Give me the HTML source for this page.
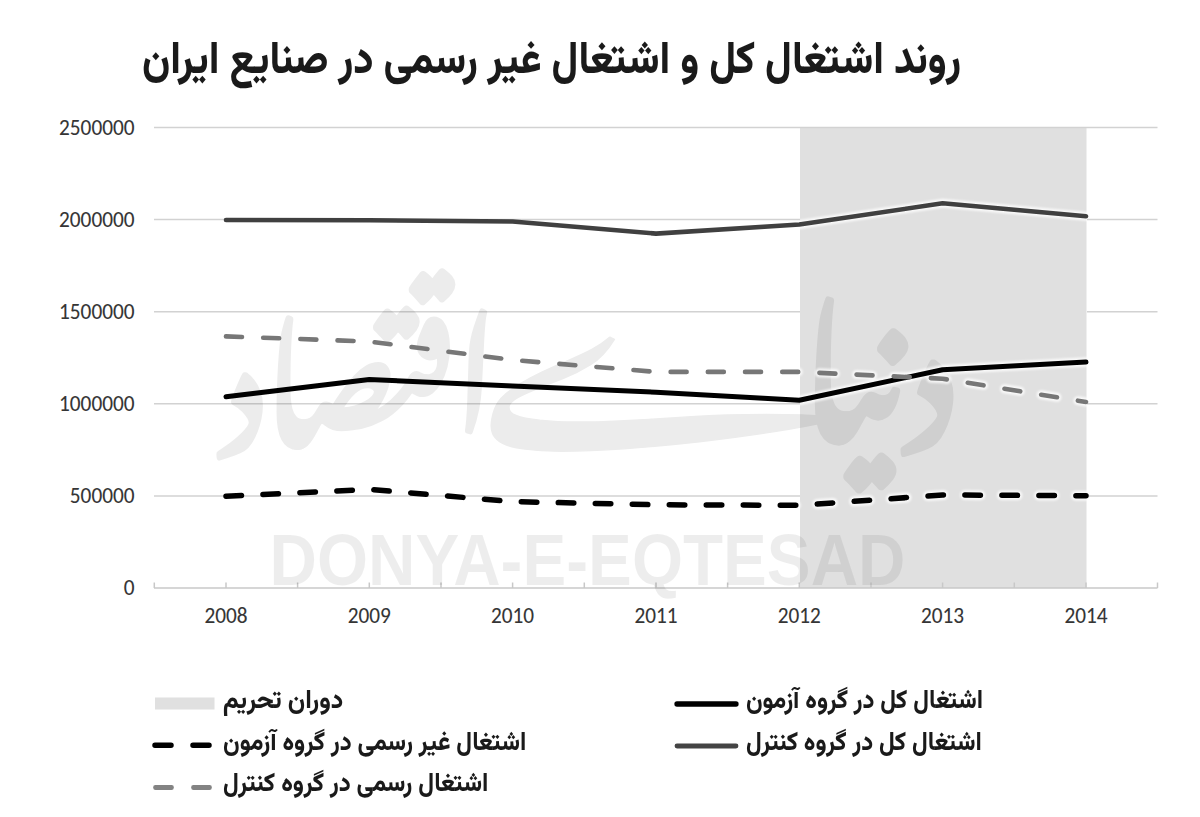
<!DOCTYPE html>
<html lang="fa">
<head>
<meta charset="utf-8">
<title>روند اشتغال کل و اشتغال غیر رسمی در صنایع ایران</title>
<style>
html,body{margin:0;padding:0;background:#fff;}
body{width:1200px;height:817px;position:relative;overflow:hidden;}
#chart{position:absolute;left:0;top:0;}
</style>
</head>
<body>
<svg id="chart" width="1200" height="817" viewBox="0 0 1200 817">
  <defs><filter id="soft" x="-5%" y="-50%" width="110%" height="200%"><feGaussianBlur stdDeviation="0.9"/></filter><clipPath id="bandclip"><rect x="800" y="127.5" width="287" height="460.5"/></clipPath></defs>
  <!-- sanction band -->
  <rect x="800" y="127" width="286.5" height="461" fill="#e0e0e0"/>
  <!-- gridlines -->
  <g stroke="#d2d2d2" stroke-width="1.5">
    <line x1="154" y1="127.5" x2="1157.5" y2="127.5"/>
    <line x1="154" y1="219.6" x2="800" y2="219.6"/>
    <line x1="1087" y1="219.6" x2="1157.5" y2="219.6"/>
    <line x1="154" y1="311.7" x2="800" y2="311.7"/>
    <line x1="1087" y1="311.7" x2="1157.5" y2="311.7"/>
    <line x1="154" y1="403.8" x2="800" y2="403.8"/>
    <line x1="1087" y1="403.8" x2="1157.5" y2="403.8"/>
    <line x1="154" y1="495.9" x2="800" y2="495.9"/>
    <line x1="1087" y1="495.9" x2="1157.5" y2="495.9"/>
  </g>
  <!-- x axis -->
  <g stroke="#c8c8c8" stroke-width="1.5">
    <line x1="154" y1="588" x2="1157.5" y2="588"/>
    <line x1="154.3" y1="582.5" x2="154.3" y2="588"/>
    <line x1="226" y1="582.5" x2="226" y2="588"/>
    <line x1="297.6" y1="582.5" x2="297.6" y2="588"/>
    <line x1="369.3" y1="582.5" x2="369.3" y2="588"/>
    <line x1="441" y1="582.5" x2="441" y2="588"/>
    <line x1="512.6" y1="582.5" x2="512.6" y2="588"/>
    <line x1="584.3" y1="582.5" x2="584.3" y2="588"/>
    <line x1="656" y1="582.5" x2="656" y2="588"/>
    <line x1="727.6" y1="582.5" x2="727.6" y2="588"/>
    <line x1="799.3" y1="582.5" x2="799.3" y2="588"/>
    <line x1="871" y1="582.5" x2="871" y2="588"/>
    <line x1="942.6" y1="582.5" x2="942.6" y2="588"/>
    <line x1="1014.3" y1="582.5" x2="1014.3" y2="588"/>
    <line x1="1086" y1="582.5" x2="1086" y2="588"/>
    <line x1="1157.5" y1="582.5" x2="1157.5" y2="588"/>
  </g>
  <!-- y labels -->
  <g font-family="Carlito,'Liberation Sans',sans-serif" font-size="23" fill="#353535" stroke="#353535" stroke-width="0.1" text-anchor="end">
    <text x="134.5" y="134.7" textLength="75.45" lengthAdjust="spacingAndGlyphs">2500000</text>
    <text x="134.5" y="226.7" textLength="75.45" lengthAdjust="spacingAndGlyphs">2000000</text>
    <text x="134.5" y="318.7" textLength="75.45" lengthAdjust="spacingAndGlyphs">1500000</text>
    <text x="134.5" y="410.7" textLength="75.45" lengthAdjust="spacingAndGlyphs">1000000</text>
    <text x="134.5" y="502.7" textLength="64.67" lengthAdjust="spacingAndGlyphs">500000</text>
    <text x="134.5" y="594.7" textLength="10.79" lengthAdjust="spacingAndGlyphs">0</text>
  </g>
  <!-- x labels -->
  <g font-family="Carlito,'Liberation Sans',sans-serif" font-size="23" fill="#353535" stroke="#353535" stroke-width="0.1" text-anchor="middle">
    <text x="226" y="622.5" textLength="43.11" lengthAdjust="spacingAndGlyphs">2008</text>
    <text x="369.3" y="622.5" textLength="43.11" lengthAdjust="spacingAndGlyphs">2009</text>
    <text x="512.6" y="622.5" textLength="43.11" lengthAdjust="spacingAndGlyphs">2010</text>
    <text x="656" y="622.5" textLength="43.11" lengthAdjust="spacingAndGlyphs">2011</text>
    <text x="799.3" y="622.5" textLength="43.11" lengthAdjust="spacingAndGlyphs">2012</text>
    <text x="942.6" y="622.5" textLength="43.11" lengthAdjust="spacingAndGlyphs">2013</text>
    <text x="1086" y="622.5" textLength="43.11" lengthAdjust="spacingAndGlyphs">2014</text>
  </g>
  <!-- logo watermark -->
  <g opacity="0.075" fill="#000" stroke="#000" stroke-width="6" stroke-linejoin="round" font-family="'Noto Nastaliq Urdu','Noto Naskh Arabic',serif" font-size="150" direction="rtl">
    <text transform="translate(497 447) scale(0.86 1.04)">اقتصاد</text>
    <text transform="translate(954 441.7) scale(0.98 1.15)">دنیا</text>
    <text transform="translate(852 441.6) scale(1.74 1.4)" stroke-width="1">ے</text>
  </g>
  <!-- halos (sharpening artefact) -->
  <g clip-path="url(#bandclip)"><g fill="none" stroke="#fff" stroke-opacity="0.8" stroke-linejoin="round" stroke-linecap="round" filter="url(#soft)">
    <polyline stroke-width="9" points="226,220 369.3,220.3 512.6,221.5 656,233.6 799.3,224.5 942.6,203.3 1086,216.2"/>
    <polyline stroke-width="9.5" points="226,396.8 369.3,379.5 512.6,386 656,392.2 799.3,400.3 942.6,369.7 1086,362.1"/>
    <polyline stroke-width="9" stroke-dasharray="16 21.2" points="226,336.4 369.3,341.5 512.6,360 656,371.9 799.3,371.9 942.6,378.7 1086,402"/>
    <polyline stroke-width="10" stroke-dasharray="15.5 21.5" points="226,496.2 369.3,489.4 512.6,501.6 656,504.8 799.3,505.3 942.6,495 1086,495.7"/>
  </g></g>
  <!-- series -->
  <g fill="none" stroke-linejoin="round">
    <polyline stroke="#404040" stroke-width="4.6" stroke-linecap="round" points="226,220 369.3,220.3 512.6,221.5 656,233.6 799.3,224.5 942.6,203.3 1086,216.2"/>
    <polyline stroke="#000" stroke-width="5" stroke-linecap="round" points="226,396.8 369.3,379.5 512.6,386 656,392.2 799.3,400.3 942.6,369.7 1086,362.1"/>
    <polyline stroke="#777" stroke-width="4.6" stroke-linecap="round" stroke-dasharray="16 21.2" points="226,336.4 369.3,341.5 512.6,360 656,371.9 799.3,371.9 942.6,378.7 1086,402"/>
    <polyline stroke="#000" stroke-width="5.5" stroke-linecap="round" stroke-dasharray="15.5 21.5" points="226,496.2 369.3,489.4 512.6,501.6 656,504.8 799.3,505.3 942.6,495 1086,495.7"/>
  </g>
  <!-- watermark -->
  <text x="269.5" y="584.8" font-family="'Liberation Sans',sans-serif" font-weight="700" font-size="72.5" fill="#000" fill-opacity="0.07" textLength="636" lengthAdjust="spacingAndGlyphs">DONYA-E-EQTESAD</text>
  <!-- legend symbols -->
  <rect x="155" y="697.5" width="59.5" height="12" fill="#e0e0e0"/>
  <line x1="155" y1="745.3" x2="213" y2="745.3" stroke="#000" stroke-width="5.5" stroke-linecap="round" stroke-dasharray="16 22"/>
  <line x1="155.5" y1="787.5" x2="213" y2="787.5" stroke="#838383" stroke-width="4.8" stroke-linecap="round" stroke-dasharray="16 22"/>
  <line x1="677" y1="704" x2="736" y2="704" stroke="#000" stroke-width="5.3" stroke-linecap="round"/>
  <line x1="677" y1="746" x2="736" y2="746" stroke="#444" stroke-width="4.8" stroke-linecap="round"/>
  <!-- title & legend text -->
  <g font-family="Vazirmatn,'Liberation Sans','DejaVu Sans',sans-serif" font-weight="800" fill="#1a1a1a" direction="rtl" text-anchor="middle" lengthAdjust="spacingAndGlyphs">
    <text x="551.5" y="72.5" font-size="45.3" textLength="819" lengthAdjust="spacingAndGlyphs">روند اشتغال کل و اشتغال غیر رسمی در صنایع ایران</text>
    <text x="283.1" y="708" font-size="26" textLength="120.3" lengthAdjust="spacingAndGlyphs">دوران تحریم</text>
    <text x="374.6" y="750" font-size="26" textLength="303.2" lengthAdjust="spacingAndGlyphs">اشتغال غیر رسمی در گروه آزمون</text>
    <text x="355.7" y="791" font-size="26" textLength="265.4" lengthAdjust="spacingAndGlyphs">اشتغال رسمی در گروه کنترل</text>
    <text x="864.5" y="708" font-size="26" textLength="237.1" lengthAdjust="spacingAndGlyphs">اشتغال کل در گروه آزمون</text>
    <text x="863.9" y="750" font-size="26" textLength="235.8" lengthAdjust="spacingAndGlyphs">اشتغال کل در گروه کنترل</text>
  </g>
</svg>

</body>
</html>
